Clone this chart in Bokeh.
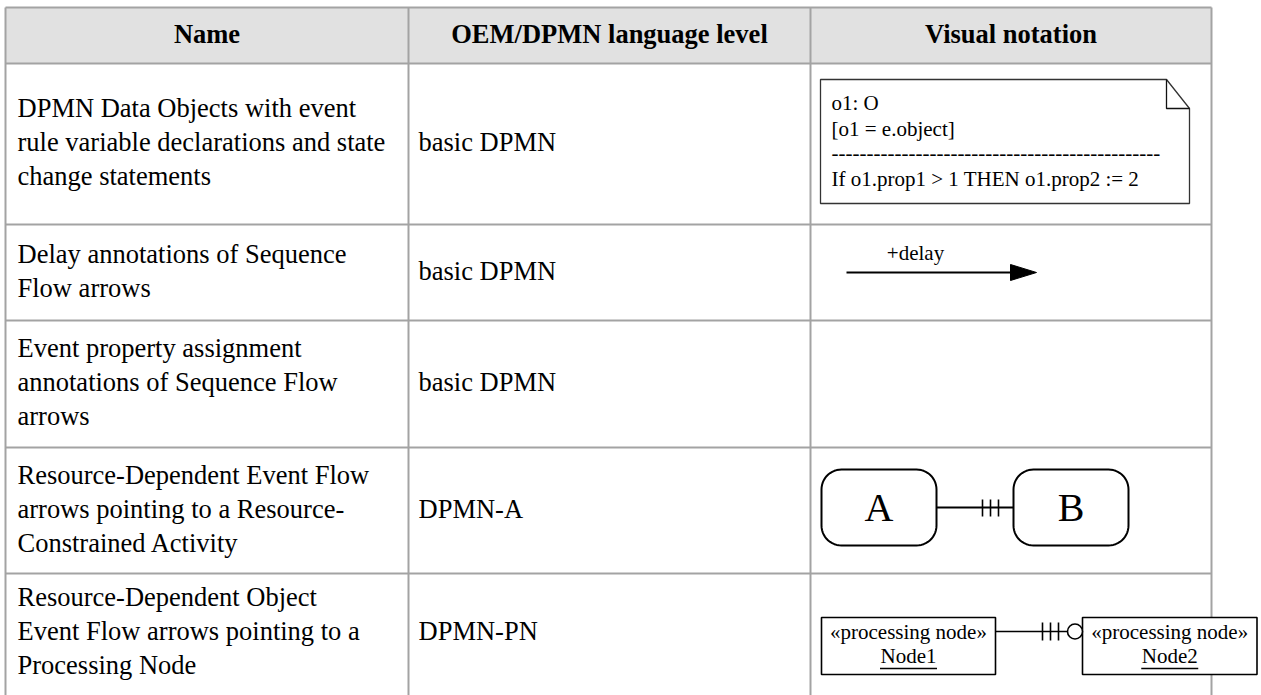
import numpy as np
from bokeh.plotting import figure
from bokeh.models import Range1d
from bokeh.embed import file_html
from bokeh.resources import INLINE
from bokeh.core.properties import value

# ---------------- data (table contents) ----------------
headers = ["Name", "OEM/DPMN language level", "Visual notation"]
names = [
    ["DPMN Data Objects with event", "rule variable declarations and state", "change statements"],
    ["Delay annotations of Sequence", "Flow arrows"],
    ["Event property assignment", "annotations of Sequence Flow", "arrows"],
    ["Resource-Dependent Event Flow", "arrows pointing to a Resource-", "Constrained Activity"],
    ["Resource-Dependent Object", "Event Flow arrows pointing to a", "Processing Node"],
]
levels = ["basic DPMN", "basic DPMN", "basic DPMN", "DPMN-A", "DPMN-PN"]
note_lines = ["o1: O", "[o1 = e.object]", "-" * 47, "If o1.prop1 > 1 THEN o1.prop2 := 2"]
delay_label = "+delay"
activity_labels = ["A", "B"]
node_stereotypes = ["\u00abprocessing node\u00bb", "\u00abprocessing node\u00bb"]
node_names = ["Node1", "Node2"]

# ---------------- layout ----------------
col_edges = [5, 408, 810, 1211]
row_edges = [7, 63, 224, 320, 447, 573, 691]
LINE_H = 34
PAD = 11
DY = -2  # visual correction of the text's middle baseline
FONT = value("Liberation Serif")
GRID = "#a3a3a3"

W, H = 1261, 695
p = figure(width=W, height=H, x_range=Range1d(0, W), y_range=Range1d(H, 0),
           output_backend="svg", toolbar_location=None, min_border=0,
           x_axis_type=None, y_axis_type=None)
p.grid.visible = False
p.outline_line_color = None
p.background_fill_color = "white"
p.border_fill_color = "white"

# header background
p.quad(left=col_edges[0], right=col_edges[-1], top=row_edges[0], bottom=row_edges[1],
       fill_color="#e1e1e1", line_color=None)

# grid lines
hy = row_edges[:-1]
p.segment(x0=[col_edges[0]] * len(hy), x1=[col_edges[-1]] * len(hy), y0=hy, y1=hy,
          line_color=GRID, line_width=2)
p.segment(x0=col_edges, x1=col_edges, y0=[row_edges[0]] * len(col_edges),
          y1=[H] * len(col_edges), line_color=GRID, line_width=2)

# header texts
hx = [(col_edges[i] + col_edges[i + 1]) / 2 for i in range(3)]
hyc = (row_edges[0] + row_edges[1]) / 2 + DY
p.text(x=hx, y=[hyc] * 3, text=headers, text_font=FONT, text_font_size="26.5px",
       text_font_style="bold", text_align="center", text_baseline="middle", text_color="black")

# body texts
tx, ty, tt = [], [], []
lx, ly = [], []
for i, lines in enumerate(names):
    c = (row_edges[i + 1] + row_edges[i + 2]) / 2 + DY
    n = len(lines)
    for j, s in enumerate(lines):
        tx.append(col_edges[0] + PAD + 1)
        ty.append(c + (j - (n - 1) / 2) * LINE_H)
        tt.append(s)
    lx.append(col_edges[1] + PAD - 1)
    ly.append(c)
p.text(x=tx, y=ty, text=tt, text_font=FONT, text_font_size="26.5px",
       text_align="left", text_baseline="middle", text_color="black")
p.text(x=lx, y=ly, text=levels, text_font=FONT, text_font_size="26.5px",
       text_align="left", text_baseline="middle", text_color="black")

# ---- row 1: note (data object) ----
nx0, ny0, nx1, ny1, fold = 820, 79, 1189, 203, 23
p.patch(x=[nx0, nx1 - fold, nx1, nx1, nx0], y=[ny0, ny0, ny0 + 29, ny1, ny1],
        fill_color="white", line_color="#333333", line_width=1.3)
p.line(x=[nx1 - fold, nx1 - fold, nx1], y=[ny0, ny0 + 29, ny0 + 29],
       line_color="#111111", line_width=1.3)
p.text(x=[nx0 + 11] * len(note_lines), y=[102, 128, 152, 178], text=note_lines,
       text_font=FONT, text_font_size="21px", text_align="left", text_baseline="middle",
       text_color="black")

# ---- row 2: delay arrow ----
ay = 272
p.segment(x0=[846], x1=[1012], y0=[ay], y1=[ay], line_color="black", line_width=2)
p.patch(x=[1010, 1036, 1010], y=[ay - 8, ay, ay + 8], fill_color="black", line_color="black")
p.text(x=[915], y=[252], text=[delay_label], text_font=FONT, text_font_size="21px",
       text_align="center", text_baseline="middle", text_color="black")


# ---- row 4: activities A / B ----
def round_rect(x0, y0, x1, y1, r, n=14):
    corners = [(x1 - r, y0 + r, -90, 0), (x1 - r, y1 - r, 0, 90),
               (x0 + r, y1 - r, 90, 180), (x0 + r, y0 + r, 180, 270)]
    xs, ys = [], []
    for cx, cy, a0, a1 in corners:
        t = np.radians(np.linspace(a0, a1, n))
        xs += list(cx + r * np.cos(t))
        ys += list(cy + r * np.sin(t))
    return xs, ys


act_boxes = [(821, 469, 936, 545), (1013, 469, 1128, 545)]
for (x0, y0, x1, y1), lab in zip(act_boxes, activity_labels):
    xs, ys = round_rect(x0, y0, x1, y1, 20)
    p.patch(x=xs, y=ys, fill_color="white", line_color="black", line_width=2)
    p.text(x=[(x0 + x1) / 2], y=[(y0 + y1) / 2], text=[lab], text_font=FONT,
           text_font_size="40px", text_align="center", text_baseline="middle", text_color="black")
cy4 = 507
p.segment(x0=[936], x1=[1013], y0=[cy4], y1=[cy4], line_color="black", line_width=2)
p.segment(x0=[982, 990, 998], x1=[982, 990, 998], y0=[cy4 - 8] * 3, y1=[cy4 + 9] * 3,
          line_color="black", line_width=1.6)

# ---- row 5: processing nodes ----
node_boxes = [(821, 617, 995, 674), (1082, 617, 1256.5, 674)]
for (x0, y0, x1, y1), st, nm in zip(node_boxes, node_stereotypes, node_names):
    p.quad(left=x0, right=x1, top=y0, bottom=y1, fill_color="white", line_color="black",
           line_width=1.6)
    cx = (x0 + x1) / 2
    p.text(x=[cx], y=[631], text=[st], text_font=FONT, text_font_size="21px",
           text_align="center", text_baseline="middle", text_color="black")
    p.text(x=[cx], y=[655], text=[nm], text_font=FONT, text_font_size="21px",
           text_align="center", text_baseline="middle", text_color="black")
    p.segment(x0=[cx - 28.5], x1=[cx + 28.5], y0=[668], y1=[668], line_color="black",
              line_width=1.5)
cy5 = 631
p.segment(x0=[995], x1=[1067], y0=[cy5], y1=[cy5], line_color="black", line_width=1.6)
p.segment(x0=[1042, 1050, 1058], x1=[1042, 1050, 1058], y0=[cy5 - 9] * 3, y1=[cy5 + 9] * 3,
          line_color="black", line_width=1.6)
p.scatter(x=[1074.5], y=[cy5], marker="circle", size=15, fill_color="white",
          line_color="black", line_width=1.6)

open("out.html", "w").write(file_html(p, INLINE))
